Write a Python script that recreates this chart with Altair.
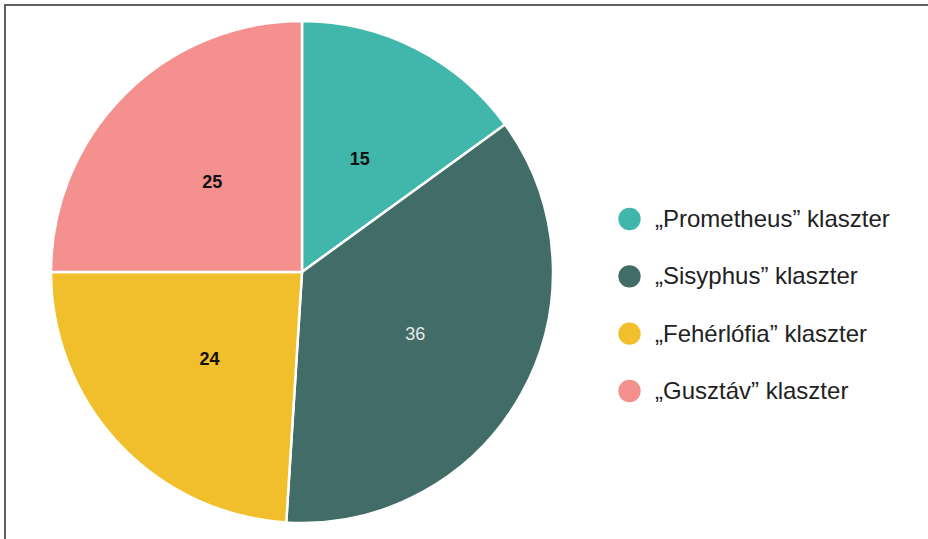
import altair as alt
import pandas as pd

categories = ["„Prometheus” klaszter", "„Sisyphus” klaszter", "„Fehérlófia” klaszter", "„Gusztáv” klaszter"]
values = [15, 36, 24, 25]
colors = ["#41B7AB", "#426C67", "#F2BF2C", "#F4918E"]
label_dark = [True, False, True, True]

df = pd.DataFrame({
    "cat": categories,
    "value": values,
    "order": list(range(len(categories))),
    "dark": label_dark,
})

W, H = 928, 539
CX, CY, R = 302, 272, 251
TOTAL = sum(values)

color_scale = alt.Scale(domain=categories, range=colors)

pie = alt.Chart(df).mark_arc(outerRadius=R, stroke="white", strokeWidth=2.5).encode(
    theta=alt.Theta("value:Q", stack=True),
    order=alt.Order("order:Q"),
    x=alt.value(CX),
    y=alt.value(CY),
    color=alt.Color("cat:N", scale=color_scale, legend=None),
)

lab_base = alt.Chart(df).transform_window(
    cum="sum(value)", sort=[alt.SortField("order")], frame=[None, 0]
).transform_calculate(
    mid="datum.cum - datum.value / 2"
)

def lab_layer(flt, **kw):
    return lab_base.transform_filter(flt).mark_text(radius=127, fontSize=18, font="Liberation Sans", **kw).encode(
        theta=alt.Theta("mid:Q", stack=None, scale=alt.Scale(domain=[0, TOTAL])),
        x=alt.value(CX),
        y=alt.value(CY),
        text="value:Q",
    )

labels_dark = lab_layer("datum.dark", fontWeight="bold", color="#111111", dy=1)
labels_light = lab_layer("!datum.dark", color="#E8E8E8", dx=2, dy=2)

# custom legend
leg_y = alt.Y("cat:N", scale=alt.Scale(domain=categories, range=[219, 391], padding=0), axis=None)
leg_dots = alt.Chart(df).mark_point(filled=True, shape="circle", size=500, opacity=1).encode(
    x=alt.value(629.5),
    y=leg_y,
    color=alt.Color("cat:N", scale=color_scale, legend=None),
)
leg_text = alt.Chart(df).mark_text(
    align="left", baseline="alphabetic", dy=8, fontSize=24,
    font="Liberation Sans", color="#222222"
).encode(
    x=alt.value(655),
    y=leg_y,
    text="cat:N",
)

top_line = alt.Chart(df.head(1)).mark_rule(color="#606060", strokeWidth=2).encode(
    x=alt.value(4), x2=alt.value(W), y=alt.value(5)
)
left_line = alt.Chart(df.head(1)).mark_rule(color="#606060", strokeWidth=2).encode(
    x=alt.value(5), y=alt.value(4), y2=alt.value(H)
)

chart = alt.layer(pie, labels_dark, labels_light, leg_dots, leg_text, top_line, left_line).resolve_scale(
    theta="independent"
).properties(
    width=W, height=H, padding=0, autosize=alt.AutoSizeParams(type="none")
).configure_view(stroke=None)

chart.save("out.html", embed_options={"renderer": "svg", "actions": False})
